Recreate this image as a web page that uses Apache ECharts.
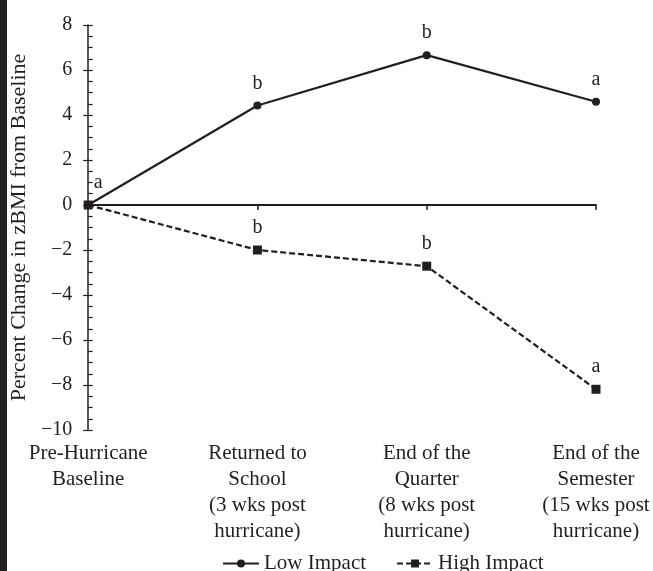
<!DOCTYPE html>
<html>
<head>
<meta charset="utf-8">
<script src="https://cdn.jsdelivr.net/npm/echarts@6/dist/echarts.min.js"></script>
<style>
html,body{margin:0;padding:0;background:#fff;}
#chart{width:653px;height:571px;}
</style>
</head>
<body>
<div id="chart"></div>
<script>
var categories = [
  "Pre-Hurricane\nBaseline",
  "Returned to\nSchool\n(3 wks post\nhurricane)",
  "End of the\nQuarter\n(8 wks post\nhurricane)",
  "End of the\nSemester\n(15 wks post\nhurricane)"
];
var lowImpact = [0, 4.42, 6.66, 4.59];
var highImpact = [0, -2.0, -2.72, -8.19];
var lowLetters = ["a", "b", "b", "a"];
var highLetters = ["", "b", "b", "a"];
var yTicks = [-10, -8, -6, -4, -2, 0, 2, 4, 6, 8];
var yTitle = "Percent Change in zBMI from Baseline";
var seriesNames = ["Low Impact", "High Impact"];

var ink = "#231f20";
var serif = "'Liberation Serif', 'Times New Roman', serif";

var chart = echarts.init(document.getElementById('chart'), null, {renderer: 'canvas'});

function letterLabel(letters, idx) {
  return {
    show: letters[idx] !== "",
    position: 'top',
    distance: 8,
    formatter: letters[idx],
    color: ink,
    fontFamily: serif,
    fontSize: 20
  };
}

var lowData = lowImpact.map(function (v, i) {
  var lab = letterLabel(lowLetters, i);
  if (i === 0) { lab.offset = [10, 0]; }
  return {value: v, label: lab};
});
var highData = highImpact.map(function (v, i) {
  return {value: v, label: letterLabel(highLetters, i)};
});

var option = {
  animation: false,
  backgroundColor: '#fff',
  textStyle: {fontFamily: serif, color: ink},
  grid: {left: 87, right: 57, top: 25, bottom: 141, containLabel: false},
  graphic: [{
    type: 'rect',
    left: 0, top: 0,
    shape: {x: 0, y: 0, width: 7, height: 571},
    style: {fill: ink}
  }],
  legend: {
    data: seriesNames,
    left: 217,
    top: 548,
    itemWidth: 36,
    itemHeight: 10,
    itemGap: 30,
    textStyle: {fontFamily: serif, fontSize: 21, color: ink}
  },
  xAxis: [{
    type: 'category',
    data: categories,
    boundaryGap: false,
    position: 'bottom',
    axisLine: {show: false, onZero: false},
    axisTick: {show: false},
    axisLabel: {
      interval: 0,
      margin: 10,
      fontFamily: serif,
      fontSize: 21,
      lineHeight: 26,
      color: ink,
      align: 'center'
    },
    splitLine: {show: false}
  }, {
    type: 'category',
    data: categories,
    boundaryGap: false,
    position: 'bottom',
    axisLine: {show: true, onZero: true, onZeroAxisIndex: 0, lineStyle: {color: ink, width: 2}},
    axisTick: {show: true, length: 5, alignWithLabel: true, lineStyle: {color: ink, width: 1.5}},
    axisLabel: {show: false},
    splitLine: {show: false}
  }],
  yAxis: [{
    type: 'value',
    min: -10,
    max: 8,
    interval: 2,
    position: 'left',
    name: yTitle,
    nameLocation: 'middle',
    nameRotate: 90,
    nameGap: 56,
    nameTextStyle: {fontFamily: serif, fontSize: 22, color: ink, padding: [0, 0, 0, 0]},
    axisLine: {show: true, lineStyle: {color: ink, width: 1.5}},
    axisTick: {show: true, length: 5, lineStyle: {color: ink, width: 1.2}},
    axisLabel: {
      margin: 16,
      fontFamily: serif,
      fontSize: 20,
      color: ink,
      formatter: function (v) { return v < 0 ? '\u2212' + Math.abs(v) : String(v); }
    },
    splitLine: {show: false}
  }, {
    type: 'value',
    min: -10,
    max: 8,
    interval: 0.5,
    position: 'left',
    axisLine: {show: false},
    axisTick: {show: true, inside: true, length: 4.5, lineStyle: {color: ink, width: 1.2}},
    axisLabel: {show: false},
    splitLine: {show: false}
  }],
  series: [{
    name: seriesNames[0],
    type: 'line',
    xAxisIndex: 0,
    yAxisIndex: 0,
    data: lowData,
    symbol: 'circle',
    symbolSize: 8,
    itemStyle: {color: ink},
    lineStyle: {color: ink, width: 2.2, type: 'solid'},
    z: 3
  }, {
    name: seriesNames[1],
    type: 'line',
    xAxisIndex: 0,
    yAxisIndex: 0,
    data: highData,
    symbol: 'rect',
    symbolSize: 9,
    itemStyle: {color: ink},
    lineStyle: {color: ink, width: 2.2, type: [6, 3]},
    z: 4
  }]
};
chart.setOption(option);
</script>
</body>
</html>
